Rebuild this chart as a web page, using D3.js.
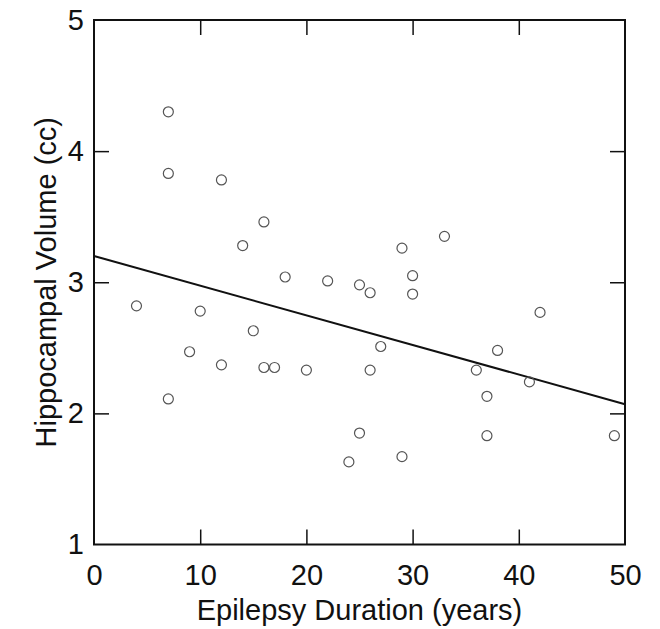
<!DOCTYPE html>
<html>
<head>
<meta charset="utf-8">
<script src="https://cdn.jsdelivr.net/npm/d3@7"></script>
<style>
  body { margin: 0; background: #fff; }
  text { font-family: "Liberation Sans", Arial, sans-serif; fill: #111; }
</style>
</head>
<body>
<div id="chart"></div>
<script>
// Data
const duration = [4, 7, 7, 7, 9, 10, 12, 12, 14, 15, 16, 16, 17, 18, 20, 22, 24, 25, 25, 26, 26, 27, 29, 29, 30, 30, 33, 36, 37, 37, 38, 41, 42, 49];
const volume = [2.82, 4.30, 3.83, 2.11, 2.47, 2.78, 3.78, 2.37, 3.28, 2.63, 3.46, 2.35, 2.35, 3.04, 2.33, 3.01, 1.63, 2.98, 1.85, 2.92, 2.33, 2.51, 3.26, 1.67, 3.05, 2.91, 3.35, 2.33, 2.13, 1.83, 2.48, 2.24, 2.77, 1.83];
// regression line end points
const fitX = [0, 50];
const fitY = [3.20, 2.07];
const xTicks = [0, 10, 20, 30, 40, 50];
const yTicks = [1, 2, 3, 4, 5];

const width = 660;
const height = 629;
const margin = { top: 20, right: 35, bottom: 85, left: 94 };

const svg = d3.select("#chart")
  .append("svg")
  .attr("width", width)
  .attr("height", height);

const x = d3.scaleLinear()
  .domain([0, 50])
  .range([margin.left, width - margin.right]);

const y = d3.scaleLinear()
  .domain([1, 5])
  .range([height - margin.bottom + 0.5, margin.top]);

const tickLen = 15;

// frame
svg.append("rect")
  .attr("x", x(0))
  .attr("y", y(5))
  .attr("width", x(50) - x(0))
  .attr("height", y(1) - y(5))
  .attr("fill", "none")
  .attr("stroke", "#111")
  .attr("stroke-width", 2);

// bottom axis, ticks pointing in
const xAxis = svg.append("g")
  .attr("transform", `translate(0, ${y(1)})`)
  .call(d3.axisBottom(x).tickValues(xTicks).tickSize(-tickLen).tickPadding(20).tickFormat(d3.format("d")));
xAxis.select(".domain").remove();
xAxis.selectAll("line").attr("stroke", "#111").attr("stroke-width", 1.5)
  .filter(d => d === 0 || d === 50).remove();
xAxis.selectAll("text").style("font-size", "29px").attr("fill", "#111");

// top ticks
const xTop = svg.append("g")
  .attr("transform", `translate(0, ${y(5)})`)
  .call(d3.axisTop(x).tickValues(xTicks.slice(1, -1)).tickSize(-tickLen).tickFormat(""));
xTop.select(".domain").remove();
xTop.selectAll("line").attr("stroke", "#111").attr("stroke-width", 1.5);

// left axis
const yAxis = svg.append("g")
  .attr("transform", `translate(${x(0)}, 0)`)
  .call(d3.axisLeft(y).tickValues(yTicks).tickSize(-tickLen).tickPadding(10).tickFormat(d3.format("d")));
yAxis.select(".domain").remove();
yAxis.selectAll("line").attr("stroke", "#111").attr("stroke-width", 1.5)
  .filter(d => d === 1 || d === 5).remove();
yAxis.selectAll("text").style("font-size", "29px").attr("fill", "#111");

// right ticks
const yRight = svg.append("g")
  .attr("transform", `translate(${x(50)}, 0)`)
  .call(d3.axisRight(y).tickValues(yTicks.slice(1, -1)).tickSize(-tickLen).tickFormat(""));
yRight.select(".domain").remove();
yRight.selectAll("line").attr("stroke", "#111").attr("stroke-width", 1.5);

// regression line
svg.append("line")
  .attr("x1", x(fitX[0]))
  .attr("y1", y(fitY[0]))
  .attr("x2", x(fitX[1]))
  .attr("y2", y(fitY[1]))
  .attr("stroke", "#111")
  .attr("stroke-width", 2);

// points
svg.selectAll("circle")
  .data(duration)
  .enter()
  .append("circle")
  .attr("cx", (d, i) => x(d))
  .attr("cy", (d, i) => y(volume[i]))
  .attr("r", 5)
  .attr("fill", "none")
  .attr("stroke", "#555")
  .attr("stroke-width", 1.2);

// axis titles
svg.append("text")
  .attr("x", (x(0) + x(50)) / 2)
  .attr("y", 620)
  .style("text-anchor", "middle")
  .style("font-size", "29px")
  .text("Epilepsy Duration (years)");

svg.append("text")
  .attr("transform", `translate(56, ${(y(1) + y(5)) / 2}) rotate(-90)`)
  .style("text-anchor", "middle")
  .style("font-size", "29px")
  .text("Hippocampal Volume (cc)");
</script>
</body>
</html>
